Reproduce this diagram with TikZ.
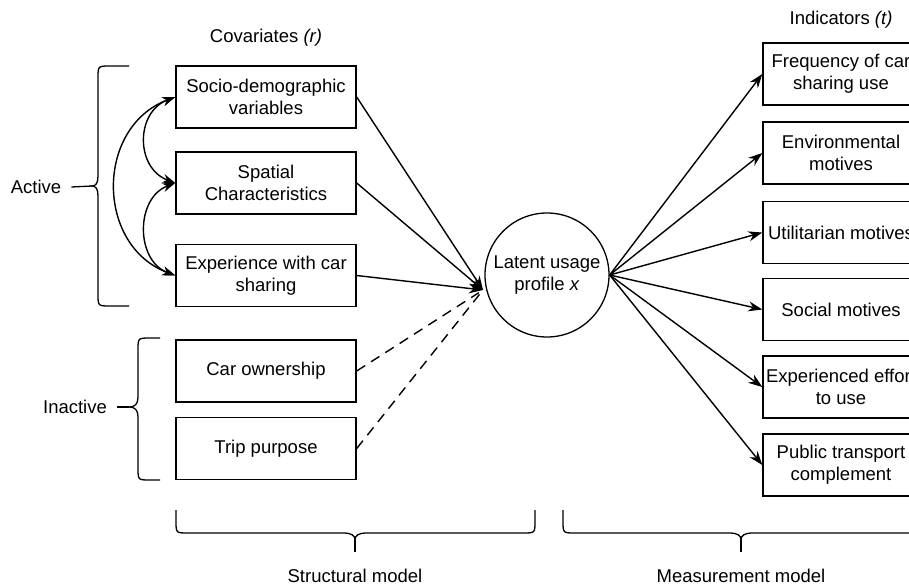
\documentclass[tikz,border=0pt]{standalone}
\usepackage{fontspec}
\setmainfont{Liberation Sans}
\usetikzlibrary{arrows.meta}
\begin{document}
\begin{tikzpicture}[x=1pt,y=-1pt,
  every node/.style={font=\fontsize{18.5}{22}\selectfont},
  lbox/.style={draw, line width=1.4pt, minimum width=180pt, minimum height=62pt, align=center, inner sep=2pt},
  rbox/.style={draw, line width=1.4pt, minimum width=156pt, minimum height=62pt, align=center, inner sep=1pt},
  latent/.style={draw, circle, line width=1.3pt, minimum size=124pt, align=center, inner sep=0pt},
  conn/.style={line width=1.4pt},
  arr/.style={conn, -{Stealth[length=14pt,width=10pt]}},
  darr/.style={conn, {Stealth[length=13pt,width=9pt]}-{Stealth[length=13pt,width=9pt]}},
  dashconn/.style={conn, dash pattern=on 10pt off 7pt, shorten >=5pt},
  brace/.style={line width=1.3pt},
  lbl/.style={inner sep=2pt}
]
\useasboundingbox (0,0) rectangle (909,586);
\fill[white] (0,0) rectangle (909,586);
\clip (0,0) rectangle (909,586);

% labels
\node[lbl] (cov) at (266,38) {Covariates \textit{(r)}};
\node[lbl] (ind) at (841,20) {Indicators \textit{(t)}};

% left boxes
\node[lbox] (b1) at (266,97) {Socio-demographic\\variables};
\node[lbox] (b2) at (266,183) {Spatial\\Characteristics};
\node[lbox] (b3) at (266,275.5) {Experience with car\\sharing};
\node[lbox] (b4) at (266,371) {Car ownership};
\node[lbox] (b5) at (266,448.5) {Trip purpose};

% latent
\node[latent] (lat) at (547,275) {Latent usage\\profile \textit{x}};
\coordinate (conv) at (483,290);

% right boxes
\node[rbox] (r1) at (841,74) {Frequency of car\\sharing use};
\node[rbox] (r2) at (841,153) {Environmental\\motives};
\node[rbox] (r3) at (841,232.5) {Utilitarian motives};
\node[rbox] (r4) at (841,309.5) {Social motives};
\node[rbox] (r5) at (841,387) {Experienced effort\\to use};
\node[rbox] (r6) at (841,465) {Public transport\\complement};

% structural arrows
\draw[arr] (b1.east) -- (conv);
\draw[arr] (b2.east) -- (conv);
\draw[arr] (b3.east) -- (conv);
\draw[dashconn] (b4.east) -- (conv);
\draw[dashconn] (b5.east) -- (conv);

% measurement arrows
\foreach \r in {r1,r2,r3,r4,r5,r6}{
  \draw[arr] (lat.east) -- (\r.west);
}

% correlations
\draw[darr] (b1.west) .. controls +(-40,15) and +(-40,-15) .. (b2.west);
\draw[darr] (b2.west) .. controls +(-40,15) and +(-40,-15) .. (b3.west);
\draw[darr] (b1.west) .. controls +(-80,30) and +(-80,-30) .. (b3.west);

% Active brace
\node[lbl] (act) at (36,187) {Active};
\coordinate (atip) at (92,186);
\draw[brace] (129,66) -- (110,66) .. controls (98,66) .. (98,78) -- (98,176)
  .. controls (98,183) and (96,186) .. (atip)
  .. controls (96,186) and (98,189) .. (98,196) -- (98,294)
  .. controls (98,306) .. (110,306) -- (129,306);
\draw[brace] ([xshift=8pt]act.east) -- (atip);

% Inactive brace
\node[lbl] (inact) at (75,407) {Inactive};
\coordinate (itip) at (129,407);
\draw[brace] (160,338) -- (150,338) .. controls (138,338) .. (138,350) -- (138,397)
  .. controls (138,404) and (135,407) .. (itip)
  .. controls (135,407) and (138,410) .. (138,417) -- (138,468)
  .. controls (138,480) .. (150,480) -- (160,480);
\draw[brace] ([xshift=8pt]inact.east) -- (itip);

% Structural brace
\coordinate (stip) at (355,540);
\draw[brace] (176,510) -- (176,521) .. controls (176,533) .. (188,533) -- (343,533)
  .. controls (351,533) and (355,535) .. (stip)
  .. controls (355,535) and (359,533) .. (367,533) -- (523,533)
  .. controls (535,533) .. (535,521) -- (535,510);
\draw[brace] (stip) -- (355,552);
\node[lbl, anchor=base] (struct) at (355,582) {Structural model};

% Measurement brace
\coordinate (mtip) at (741,540);
\draw[brace] (563,510) -- (563,521) .. controls (563,533) .. (575,533) -- (729,533)
  .. controls (737,533) and (741,535) .. (mtip)
  .. controls (741,535) and (745,533) .. (753,533) -- (907,533)
  .. controls (919,533) .. (919,521) -- (919,510);
\draw[brace] (mtip) -- (741,552);
\node[lbl, anchor=base] (meas) at (741,582) {Measurement model};
\end{tikzpicture}
\end{document}
